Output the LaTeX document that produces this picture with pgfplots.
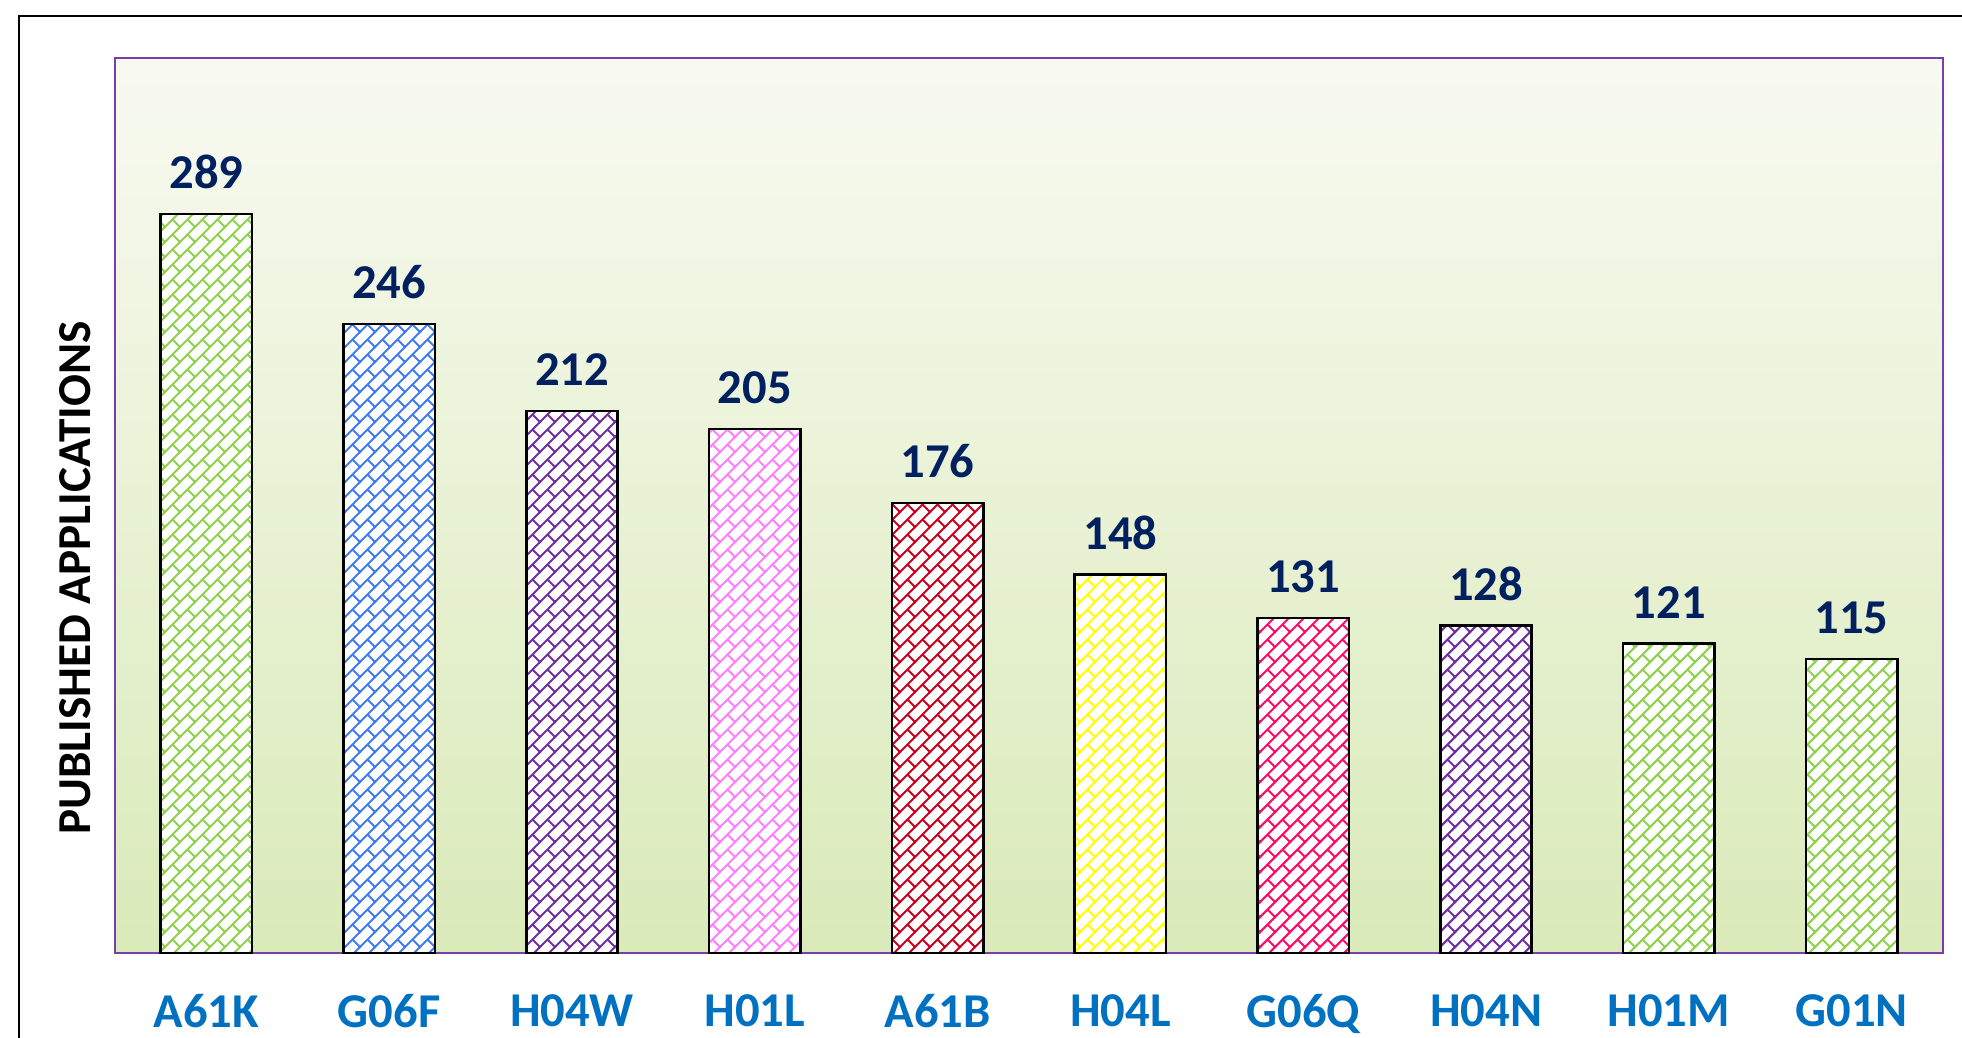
\documentclass[border=0pt]{standalone}
\usepackage{pgfplots}
\pgfplotsset{compat=1.18}
\usepackage{fontspec}
\setmainfont{Carlito}
\usetikzlibrary{patterns}
\definecolor{navy}{HTML}{002060}
\definecolor{catblue}{HTML}{0070C0}
\definecolor{axpurple}{HTML}{7A3DB0}
\definecolor{bgtop}{HTML}{F8FAF1}
\definecolor{bgbot}{HTML}{DAEAB9}
\definecolor{cgreen}{HTML}{92D050}
\definecolor{cblue}{HTML}{3F7CF2}
\definecolor{cpurple}{HTML}{7030A0}
\definecolor{cpink}{HTML}{FF80FF}
\definecolor{cred}{HTML}{CC0020}
\definecolor{cyellow}{HTML}{FFFF00}
\definecolor{ccrimson}{HTML}{FF0A68}
\pgfdeclarepatternformonly{diagbrick}{\pgfqpoint{-0.5pt}{-0.5pt}}{\pgfqpoint{5.9pt}{5.9pt}}{\pgfqpoint{5.4pt}{5.4pt}}{%
  \pgfsetlinewidth{0.75pt}\pgfsetroundcap
  \pgfpathmoveto{\pgfqpoint{-0.5pt}{-0.5pt}}\pgfpathlineto{\pgfqpoint{5.9pt}{5.9pt}}%
  \pgfpathmoveto{\pgfqpoint{2.7pt}{2.7pt}}\pgfpathlineto{\pgfqpoint{5.4pt}{0pt}}%
  \pgfusepath{stroke}}
\pgfplotsset{mybar/.style={bar shift=0pt, draw=black, line width=0.9pt,
  preaction={fill=white}, pattern=diagbrick, pattern color=#1}}
\begin{document}
\begin{tikzpicture}
\useasboundingbox (0,0) rectangle (706.32pt,373.32pt);
\clip (0,0) rectangle (706.32pt,373.32pt);
\draw[line width=0.9pt] (6.84pt,-20pt) |- (740pt,367.56pt);
\begin{axis}[
  at={(41.4pt,30.24pt)}, anchor=south west,
  scale only axis, width=658.08pt, height=322.2pt,
  xmin=-0.5, xmax=9.5, ymin=0, ymax=350,
  ybar, bar width=0.5,
  xtick={0,...,9},
  xticklabels={A61K,G06F,H04W,H01L,A61B,H04L,G06Q,H04N,H01M,G01N},
  xticklabel style={font=\bfseries\fontsize{17.5}{20}\selectfont, text=catblue, anchor=north, inner sep=0pt, yshift=-14.6pt},
  major tick length=0pt, ytick=\empty,
  axis line style={draw=axpurple, line width=0.7pt},
  axis background/.style={top color=bgtop, bottom color=bgbot},
  ylabel={PUBLISHED APPLICATIONS},
  ylabel style={at={(axis description cs:-0.0219,0.419)}, anchor=center, font=\bfseries\fontsize{17}{20}\selectfont, inner sep=0pt},
  /pgf/number format/assume math mode=true,
  nodes near coords,
  nodes near coords style={font=\bfseries\fontsize{17.5}{20}\selectfont, text=navy, anchor=south, inner sep=0pt, yshift=8.6pt},
  clip=false,
]
\addplot[mybar=cgreen] coordinates {(0,289)};
\addplot[mybar=cblue] coordinates {(1,246)};
\addplot[mybar=cpurple] coordinates {(2,212)};
\addplot[mybar=cpink] coordinates {(3,205)};
\addplot[mybar=cred] coordinates {(4,176)};
\addplot[mybar=cyellow] coordinates {(5,148)};
\addplot[mybar=ccrimson] coordinates {(6,131)};
\addplot[mybar=cpurple] coordinates {(7,128)};
\addplot[mybar=cgreen] coordinates {(8,121)};
\addplot[mybar=cgreen] coordinates {(9,115)};
\end{axis}
\end{tikzpicture}
\end{document}
